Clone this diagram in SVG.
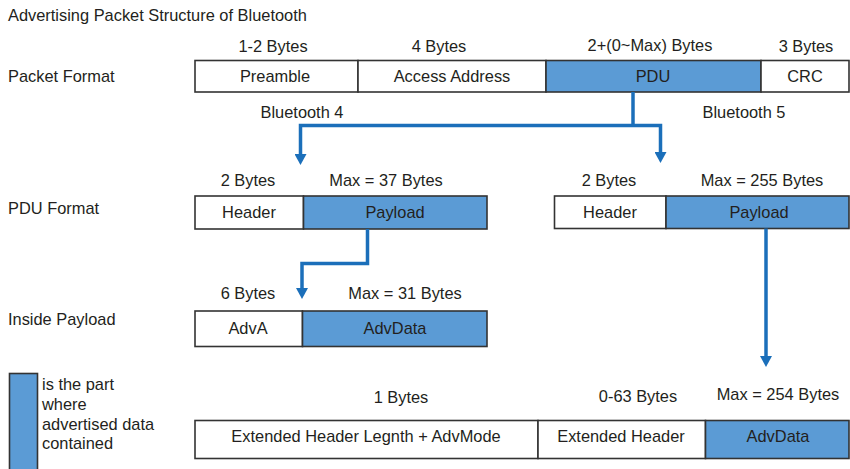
<svg xmlns="http://www.w3.org/2000/svg" width="850" height="469" viewBox="0 0 850 469">
<style>
text{font-family:"Liberation Sans",Arial,sans-serif;font-size:16.4px;fill:#231f20}
.c{text-anchor:middle}
.w{fill:#ffffff;stroke:#333333;stroke-width:1.6}
.b{fill:#5b9bd5;stroke:#333333;stroke-width:1.6}
.ln{fill:none;stroke:#1b6fba;stroke-width:3.5}
</style>
<defs>
<marker id="ah" viewBox="0 0 11 12" refX="0" refY="6" markerWidth="11" markerHeight="12" markerUnits="userSpaceOnUse" orient="auto">
<path d="M0,0 L11,6 L0,12 Z" fill="#1b6fba"/>
</marker>
</defs>
<g id="title"><text x="8" y="21">Advertising Packet Structure of Bluetooth</text></g>
<g id="labels">
<text x="8" y="82">Packet Format</text>
<text x="8" y="214">PDU Format</text>
<text x="8" y="325">Inside Payload</text>
</g>
<g id="packet-format">
<rect class="w" x="195" y="60.5" width="163" height="31.5"/>
<rect class="w" x="358" y="60.5" width="188" height="31.5"/>
<rect class="b" x="546" y="60.5" width="215" height="31.5"/>
<rect class="w" x="761" y="60.5" width="88" height="31.5"/>
<text class="c" x="275" y="82">Preamble</text>
<text class="c" x="452" y="82">Access Address</text>
<text class="c" x="653" y="82">PDU</text>
<text class="c" x="805" y="82">CRC</text>
<text class="c" x="273" y="52">1-2 Bytes</text>
<text class="c" x="439" y="52">4 Bytes</text>
<text class="c" x="650" y="51">2+(0~Max) Bytes</text>
<text class="c" x="806" y="52">3 Bytes</text>
</g>
<g id="bt-labels">
<text class="c" x="302" y="118">Bluetooth 4</text>
<text class="c" x="744" y="118">Bluetooth 5</text>
</g>
<g id="pdu-bt4">
<rect class="w" x="195" y="196" width="108.5" height="33"/>
<rect class="b" x="303.5" y="196" width="183.5" height="33"/>
<text class="c" x="249" y="218">Header</text>
<text class="c" x="395" y="218">Payload</text>
<text class="c" x="248" y="186">2 Bytes</text>
<text class="c" x="386" y="186">Max = 37 Bytes</text>
</g>
<g id="pdu-bt5">
<rect class="w" x="554.5" y="196" width="111.5" height="32.5"/>
<rect class="b" x="666" y="196" width="183" height="32.5"/>
<text class="c" x="610" y="218">Header</text>
<text class="c" x="759" y="218">Payload</text>
<text class="c" x="609" y="186">2 Bytes</text>
<text class="c" x="762" y="186">Max = 255 Bytes</text>
</g>
<g id="inside-payload">
<rect class="w" x="195" y="311" width="107.5" height="35.5"/>
<rect class="b" x="302.5" y="311" width="184.5" height="35.5"/>
<text class="c" x="248" y="334">AdvA</text>
<text class="c" x="395" y="334">AdvData</text>
<text class="c" x="248" y="299">6 Bytes</text>
<text class="c" x="405" y="299">Max = 31 Bytes</text>
</g>
<g id="ext-payload">
<rect class="w" x="195" y="420.5" width="343" height="38"/>
<rect class="w" x="538" y="420.5" width="167.5" height="38"/>
<rect class="b" x="705.5" y="420.5" width="143.5" height="38"/>
<text class="c" x="366" y="442">Extended Header Legnth + AdvMode</text>
<text class="c" x="621" y="442">Extended Header</text>
<text class="c" x="778" y="442">AdvData</text>
<text class="c" x="401" y="403">1 Bytes</text>
<text class="c" x="638" y="402">0-63 Bytes</text>
<text class="c" x="778" y="400">Max = 254 Bytes</text>
</g>
<g id="legend">
<rect class="b" x="9.5" y="373.5" width="28" height="100"/>
<text x="42" y="390">is the part</text>
<text x="42" y="410">where</text>
<text x="42" y="430">advertised data</text>
<text x="42" y="449">contained</text>
</g>
<g id="connectors">
<path class="ln" d="M633,92 V125.5"/>
<path class="ln" d="M633,125.5 H300.5 V154" marker-end="url(#ah)"/>
<path class="ln" d="M633,125.5 H660.5 V152" marker-end="url(#ah)"/>
<path class="ln" d="M367.5,229 V263.5 H302 V288" marker-end="url(#ah)"/>
<path class="ln" d="M766,228.5 V356" marker-end="url(#ah)"/>
</g>
</svg>
